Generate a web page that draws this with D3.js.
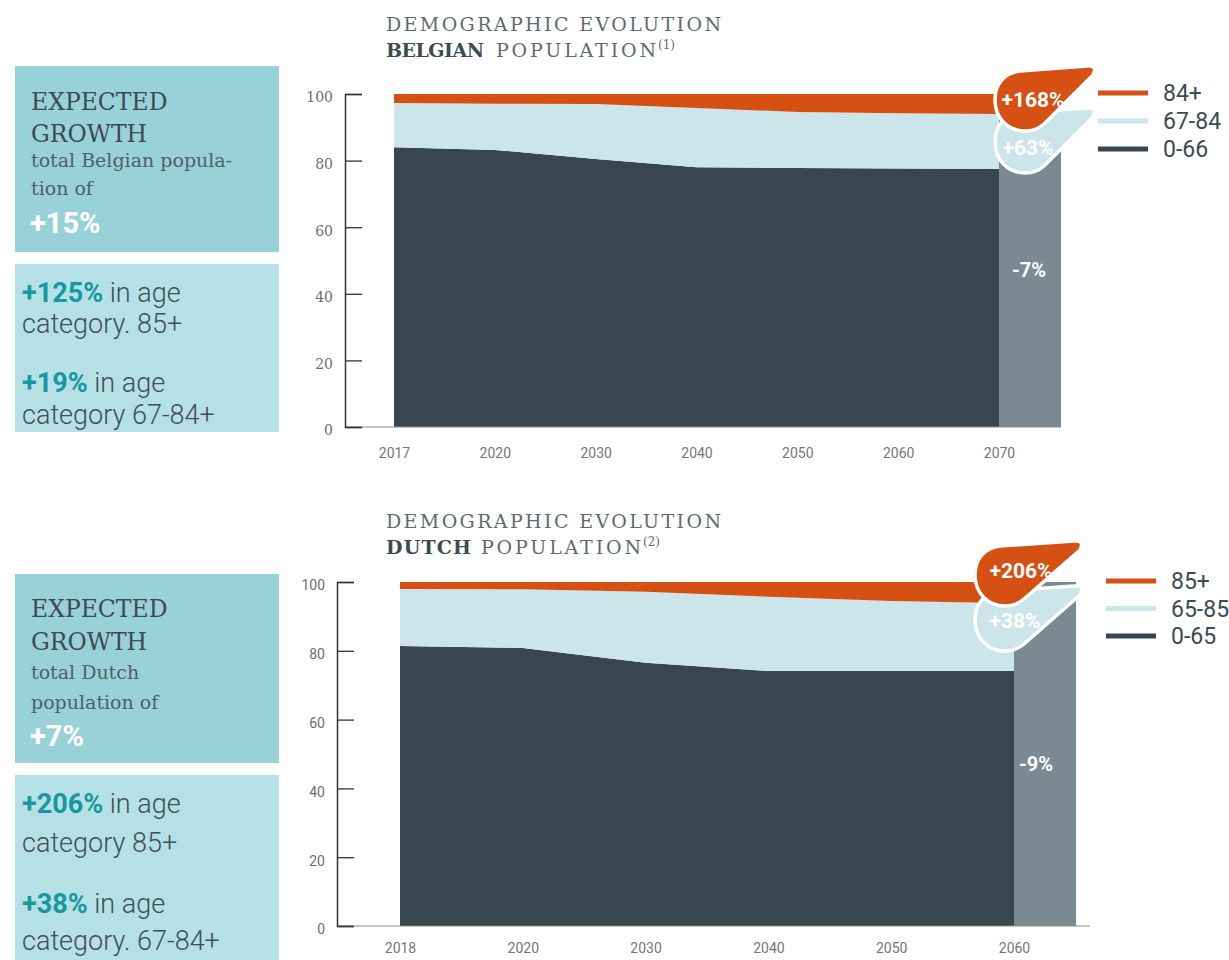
<!DOCTYPE html>
<html>
<head>
<meta charset="utf-8">
<script src="https://cdn.jsdelivr.net/npm/d3@7"></script>
<style>
  body { margin: 0; background: #fff; }
  svg { display: block; }
</style>
</head>
<body>
<svg id="chart" width="1229" height="960"></svg>
<script>
// ---- data (share of population, %) ----
var yTicks = [0, 20, 40, 60, 80, 100];

var beYears = ["2017", "2020", "2030", "2040", "2050", "2060", "2070"];
var beKeys = ["0-66", "67-84", "84+"];
var beYoung = [84, 83.2, 80.5, 78, 77.8, 77.6, 77.5];
var beMid = [13.3, 13.9, 16.5, 17.8, 16.8, 16.6, 16.5];
var beOld = [2.7, 2.9, 3, 4.2, 5.4, 5.8, 6];
var beChange = ["-7%", "+63%", "+168%"];

var nlYears = ["2018", "2020", "2030", "2040", "2050", "2060"];
var nlKeys = ["0-65", "65-85", "85+"];
var nlYoung = [81.4, 80.8, 76.5, 74.1, 74.1, 74.1];
var nlMid = [16.6, 17.1, 20.7, 21.6, 20.4, 19.7];
var nlOld = [2, 2.1, 2.8, 4.3, 5.5, 6.2];
var nlChange = ["-9%", "+38%", "+206%"];

var colors = ["#38474f", "#cce5ea", "#d65014"];
var greyBar = "#7a8a92";
var slab = "'Roboto Slab', 'DejaVu Serif', serif";
var sans = "Roboto, 'Open Sans', sans-serif";
var ink = "#3b4b53";
var teal = "#15999f";

var svg = d3.select("#chart");

function bubblePath(cx, cy, tail) {
    return "M" + (cx - 33) + "," + cy +
        " C" + (cx - 33) + "," + (cy - 18) + " " + (cx - 22) + "," + (cy - 27) + " " + (cx - 8) + "," + (cy - 29) +
        " L" + (cx + tail - 6) + "," + (cy - 34) +
        " Q" + (cx + tail + 5) + "," + (cy - 35) + " " + (cx + tail) + "," + (cy - 25) +
        " L" + (cx + 16) + "," + (cy + 24) +
        " Q" + (cx + 8) + "," + (cy + 31) + " " + (cx - 3) + "," + (cy + 31) +
        " C" + (cx - 20) + "," + (cy + 31) + " " + (cx - 33) + "," + (cy + 18) + " " + (cx - 33) + "," + cy + " Z";
}

function drawPanel(p) {
    var table = p.years.map(function(yr, i) {
        var row = {year: yr};
        row[p.keys[0]] = p.young[i];
        row[p.keys[1]] = p.mid[i];
        row[p.keys[2]] = p.old[i];
        return row;
    });
    var series = d3.stack().keys(p.keys)(table);

    var x = d3.scalePoint().domain(p.years).range([p.x0, p.x1]);
    var y = d3.scaleLinear().domain([0, 100]).range([p.yBottom, p.yTop]);

    var g = svg.append("g");

    // titles
    g.append("text")
        .attr("x", 386).attr("y", p.titleY)
        .attr("font-family", slab).attr("font-size", 19).attr("font-weight", 300)
        .attr("fill", "#5d6a70")
        .attr("textLength", 335).attr("lengthAdjust", "spacing")
        .text("DEMOGRAPHIC EVOLUTION");
    var t2 = g.append("text").attr("y", p.titleY + 26)
        .attr("font-family", slab).attr("font-size", 19).attr("fill", "#5d6a70");
    t2.append("tspan").attr("x", 386).attr("font-weight", "bold").attr("fill", ink)
        .attr("textLength", p.nameW).attr("lengthAdjust", "spacing").text(p.name);
    t2.append("tspan").attr("x", p.popX).attr("textLength", 160).attr("lengthAdjust", "spacing")
        .text("POPULATION");
    t2.append("tspan").attr("x", p.popX + 162).attr("dy", -8).attr("font-size", 12).text(p.note);

    // areas
    var area = d3.area()
        .x(function(d) { return x(d.data.year); })
        .y0(function(d) { return y(d[0]); })
        .y1(function(d) { return y(d[1]); });

    g.append("g").selectAll("path")
        .data(series)
        .enter()
        .append("path")
        .attr("d", area)
        .attr("fill", function(d, i) { return colors[i]; });

    // projection bar after last year
    var last = table[table.length - 1];
    var total = d3.sum(p.keys, function(k) { return last[k]; });
    g.append("rect")
        .attr("x", x(last.year))
        .attr("y", y(total))
        .attr("width", 62)
        .attr("height", y(0) - y(total))
        .attr("fill", greyBar);

    // baseline
    g.append("line")
        .attr("x1", p.axisX).attr("x2", x(last.year) + 62 + p.baseExtra)
        .attr("y1", y(0)).attr("y2", y(0))
        .attr("stroke", "#8a8a8a").attr("stroke-width", 1);

    // y axis
    var yAxis = g.append("g")
        .attr("transform", "translate(" + p.axisX + ",0)")
        .call(d3.axisLeft(y).tickValues(yTicks).tickSize(-17).tickPadding(12));
    yAxis.select(".domain").attr("stroke", "#333").attr("stroke-width", 1.5);
    yAxis.selectAll(".tick line").attr("stroke", "#333").attr("stroke-width", 1.3);
    yAxis.selectAll(".tick text")
        .attr("dy", "0.85em").attr("y", -4)
        .attr("fill", "#6d6d6d").attr("font-size", 14)
        .attr("font-family", p.tickFont);

    // x labels
    var xAxis = g.append("g")
        .attr("transform", "translate(0," + y(0) + ")")
        .call(d3.axisBottom(x).tickSize(0).tickPadding(p.xPad));
    xAxis.select(".domain").remove();
    xAxis.selectAll(".tick text")
        .attr("fill", "#767676").attr("font-size", 14)
        .attr("font-family", sans);

    // change label on bar
    g.append("text")
        .attr("x", x(last.year) + p.barLabelDx).attr("y", y(45))
        .attr("text-anchor", "middle")
        .attr("font-family", sans).attr("font-weight", "bold").attr("font-size", 20)
        .attr("fill", "#fff").text(p.change[0]);

    // bubbles
    var bx = x(last.year) + p.bubbleDx;
    [1, 2].forEach(function(i) {
        var cy = p.bubbleY[i - 1];
        g.append("path")
            .attr("d", bubblePath(bx, cy, p.tail))
            .attr("fill", colors[i])
            .attr("stroke", "#fff").attr("stroke-width", 3.5);
        g.append("text")
            .attr("x", bx + p.bubbleTextDx[i - 1]).attr("y", cy + p.bubbleTextDy[i - 1])
            .attr("text-anchor", "middle")
            .attr("font-family", sans).attr("font-weight", "bold").attr("font-size", 21)
            .attr("fill", "#fff").text(p.change[i]);
    });

    // legend
    var legend = g.append("g");
    [2, 1, 0].forEach(function(k, j) {
        var ly = p.legendY + j * p.legendStep;
        legend.append("line")
            .attr("x1", p.legendX).attr("x2", p.legendX + 50)
            .attr("y1", ly).attr("y2", ly)
            .attr("stroke", colors[k]).attr("stroke-width", 5);
        legend.append("text")
            .attr("x", p.legendX + 65).attr("y", ly + 8)
            .attr("font-family", sans).attr("font-size", 23)
            .attr("fill", ink).text(p.keys[k]);
    });

    // side boxes
    g.append("rect").attr("x", 15).attr("y", p.box1[0]).attr("width", 264)
        .attr("height", p.box1[1] - p.box1[0]).attr("fill", "#99d1d8");
    g.append("rect").attr("x", 15).attr("y", p.box2[0]).attr("width", 264)
        .attr("height", p.box2[1] - p.box2[0]).attr("fill", "#b5e0e5");

    g.append("text").attr("x", 31).attr("y", p.box1Lines[0])
        .attr("font-family", slab).attr("font-size", 23.5).attr("fill", ink).text("EXPECTED");
    g.append("text").attr("x", 31).attr("y", p.box1Lines[1])
        .attr("font-family", slab).attr("font-size", 23.5).attr("fill", ink).text("GROWTH");
    g.append("text").attr("x", 31).attr("y", p.box1Lines[2])
        .attr("font-family", slab).attr("font-size", 19).attr("fill", "#4f6068").text(p.growthText[0]);
    g.append("text").attr("x", 31).attr("y", p.box1Lines[3])
        .attr("font-family", slab).attr("font-size", 19).attr("fill", "#4f6068").text(p.growthText[1]);
    g.append("text").attr("x", 30).attr("y", p.box1Lines[4])
        .attr("font-family", sans).attr("font-weight", "bold").attr("font-size", 29)
        .attr("fill", "#fff").text(p.growthText[2]);

    p.facts.forEach(function(f, i) {
        var t = g.append("text").attr("x", 22).attr("y", p.box2Lines[i * 2])
            .attr("font-family", sans).attr("font-size", 27).attr("font-weight", 300).attr("fill", "#3f4f57");
        t.append("tspan").attr("font-weight", "bold").attr("fill", teal).text(f[0]);
        t.append("tspan").text(" in age");
        g.append("text").attr("x", 22).attr("y", p.box2Lines[i * 2 + 1])
            .attr("font-family", sans).attr("font-size", 27).attr("font-weight", 300)
            .attr("fill", "#3f4f57").text(f[1]);
    });
}

drawPanel({
    years: beYears, keys: beKeys, young: beYoung, mid: beMid, old: beOld, change: beChange,
    name: "BELGIAN", nameW: 98, popX: 496, note: "(1)", titleY: 31,
    x0: 394, x1: 999, yTop: 94, yBottom: 427, axisX: 345, baseExtra: 0,
    tickFont: slab, xPad: 21,
    barLabelDx: 30, bubbleDx: 29, tail: 65, bubbleY: [142, 100],
    bubbleTextDx: [0, 5], bubbleTextDy: [13, 7],
    legendX: 1098, legendY: 93, legendStep: 28,
    box1: [66, 252], box2: [264, 432],
    box1Lines: [110, 142, 167, 195, 233],
    growthText: ["total Belgian popula-", "tion of", "+15%"],
    box2Lines: [302, 333, 392, 424],
    facts: [["+125%", "category. 85+"], ["+19%", "category 67-84+"]]
});

drawPanel({
    years: nlYears, keys: nlKeys, young: nlYoung, mid: nlMid, old: nlOld, change: nlChange,
    name: "DUTCH", nameW: 85, popX: 481, note: "(2)", titleY: 528,
    x0: 400, x1: 1014, yTop: 582, yBottom: 926, axisX: 337, baseExtra: 14,
    tickFont: sans, xPad: 17,
    barLabelDx: 22, bubbleDx: -6, tail: 72, bubbleY: [620, 575],
    bubbleTextDx: [7, 13], bubbleTextDy: [8, 3],
    legendX: 1106, legendY: 581, legendStep: 27.5,
    box1: [574, 763], box2: [775, 960],
    box1Lines: [617, 650, 679, 709, 746],
    growthText: ["total Dutch", "population of", "+7%"],
    box2Lines: [813, 852, 913, 950],
    facts: [["+206%", "category 85+"], ["+38%", "category. 67-84+"]]
});
</script>
</body>
</html>
